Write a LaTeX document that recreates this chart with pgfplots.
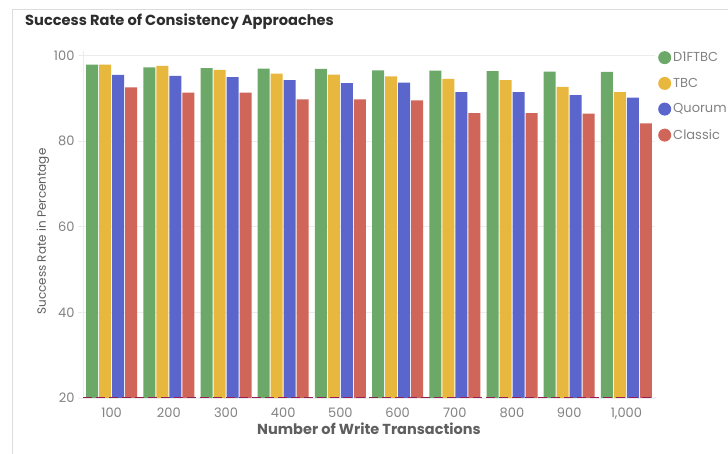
\documentclass[border=0pt]{standalone}
\usepackage{pgfplots}
\pgfplotsset{compat=1.18}
\usepackage{fontspec}
\setmainfont{Poppins}
\definecolor{cgreen}{RGB}{108,168,104}
\definecolor{cyellow}{RGB}{232,184,62}
\definecolor{cblue}{RGB}{90,102,204}
\definecolor{cred}{RGB}{208,102,90}
\definecolor{tickc}{RGB}{130,130,130}
\definecolor{labc}{RGB}{95,95,95}
\definecolor{titc}{RGB}{45,45,45}
\definecolor{gridc}{RGB}{236,236,236}
\definecolor{borderc}{RGB}{220,220,220}
\definecolor{dashc}{RGB}{150,30,85}
\begin{document}
\begin{tikzpicture}[x=1pt,y=1pt]
\path[use as bounding box] (0,0) rectangle (728,454);
\fill[white] (0,0) rectangle (728,454);
\draw[borderc, line width=1pt] (12,0) -- (12,444) -- (728,444);
\node[anchor=west, font=\bfseries\fontsize{14.6}{16}\selectfont, text=titc, inner sep=0pt] at (25,432) {Success Rate of Consistency Approaches};
\coordinate (A) at (83,56);
\begin{axis}[
  at={(A)}, anchor=south west,
  scale only axis, width=572pt, height=347pt,
  ybar=1pt, bar width=12pt,
  xmin=-0.5, xmax=9.5, ymin=20, ymax=101,
  xtick={0,...,9},
  xticklabels={100,200,300,400,500,600,700,800,900,{1,000}},
  ytick={20,40,60,80,100},
  axis lines*=left,
  x axis line style={draw=none},
  y axis line style={draw=gridc, line width=0.8pt},
  ymajorgrids, grid style={draw=gridc, line width=0.8pt},
  major x tick style={draw=none},
  major y tick style={draw=gridc, line width=0.8pt},
  tick align=outside, major tick length=5pt,
  tick label style={font=\fontsize{13}{15}\selectfont, text=tickc},
  /pgf/number format/assume math mode=true,
  xticklabel style={yshift=-1pt},
  xlabel={Number of Write Transactions},
  xlabel style={font=\bfseries\fontsize{14.5}{16}\selectfont, text=labc, yshift=3pt},
  ylabel={Success Rate in Percentage},
  ylabel style={font=\fontsize{12}{14}\selectfont, text=labc, yshift=-2pt, xshift=-7pt},
  legend image code/.code={\fill[#1, draw=none] (4pt,0pt) circle (6.5pt);},
  legend style={at={(rel axis cs:1,1)}, anchor=north west, xshift=0pt, yshift=3pt,
    draw=none, fill=none, font=\fontsize{13}{15}\selectfont, text=tickc,
    row sep=11pt, cells={anchor=west}},
]
\addplot[fill=cgreen, draw=none] coordinates {(0,97.8) (1,97.2) (2,97.0) (3,96.9) (4,96.8) (5,96.5) (6,96.4) (7,96.3) (8,96.2) (9,96.1)};
\addplot[fill=cyellow, draw=none] coordinates {(0,97.8) (1,97.5) (2,96.6) (3,95.7) (4,95.5) (5,95.1) (6,94.5) (7,94.2) (8,92.6) (9,91.4)};
\addplot[fill=cblue, draw=none] coordinates {(0,95.4) (1,95.2) (2,94.9) (3,94.2) (4,93.5) (5,93.6) (6,91.4) (7,91.4) (8,90.7) (9,90.1)};
\addplot[fill=cred, draw=none] coordinates {(0,92.5) (1,91.3) (2,91.3) (3,89.7) (4,89.7) (5,89.5) (6,86.5) (7,86.5) (8,86.4) (9,84.1)};
\legend{D1FTBC,TBC,Quorum,Classic}
\addplot[sharp plot, dashc, line width=2.4pt, dash pattern=on 9pt off 4pt, forget plot, clip=false] coordinates {(-0.5,20) (9.5,20)};
\end{axis}
\end{tikzpicture}
\end{document}
